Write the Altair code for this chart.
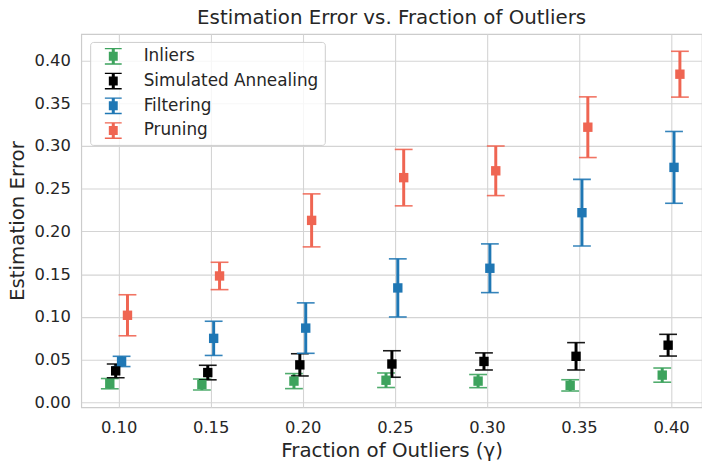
import altair as alt
import pandas as pd

gammas = [0.10, 0.15, 0.20, 0.25, 0.30, 0.35, 0.40]
series_names = ["Inliers", "Simulated Annealing", "Filtering", "Pruning"]
series_colors = ["#3da35d", "#000000", "#1f77b4", "#ef6552"]
series_offsets = [-0.0048, -0.0016, 0.0016, 0.0048]

inliers_mean = [0.022, 0.021, 0.025, 0.026, 0.025, 0.020, 0.032]
inliers_err = [0.006, 0.0065, 0.0088, 0.0085, 0.0077, 0.0066, 0.0083]
sa_mean = [0.037, 0.035, 0.044, 0.045, 0.048, 0.054, 0.067]
sa_err = [0.008, 0.0085, 0.013, 0.0155, 0.010, 0.016, 0.0127]
filt_mean = [0.048, 0.075, 0.087, 0.134, 0.157, 0.222, 0.275]
filt_err = [0.006, 0.020, 0.0295, 0.034, 0.0285, 0.039, 0.042]
prun_mean = [0.102, 0.148, 0.213, 0.263, 0.271, 0.322, 0.384]
prun_err = [0.024, 0.016, 0.031, 0.033, 0.029, 0.0355, 0.0268]

x_ticks = [0.10, 0.15, 0.20, 0.25, 0.30, 0.35, 0.40]
y_ticks = [0.00, 0.05, 0.10, 0.15, 0.20, 0.25, 0.30, 0.35, 0.40]

means = [inliers_mean, sa_mean, filt_mean, prun_mean]
errs = [inliers_err, sa_err, filt_err, prun_err]

rows = []
for si, name in enumerate(series_names):
    for gi, g in enumerate(gammas):
        m = means[si][gi]
        e = errs[si][gi]
        rows.append({"series": name, "order": si, "x": g + series_offsets[si],
                     "mean": m, "lo": m - e, "hi": m + e})
df = pd.DataFrame(rows)

FONT = "DejaVu Sans"
TXT = "#262626"

xscale = alt.Scale(domain=[0.0797, 0.4168], nice=False, zero=False)
yscale = alt.Scale(domain=[-0.0056, 0.431], nice=False, zero=False)
cscale = alt.Scale(domain=series_names, range=series_colors)

xaxis = alt.Axis(values=x_ticks, format=".2f", title="Fraction of Outliers (\u03b3)",
                 labelPadding=13, titlePadding=4)
yaxis = alt.Axis(values=y_ticks, format=".2f", title="Estimation Error",
                 labelPadding=11, titlePadding=7)

glyph = ("M0.04,-1H2.04V-0.84H0.04Z M0.04,0.84H2.04V1H0.04Z "
         "M0.86,-0.84H1.22V0.84H0.86Z M0.51,-0.53H1.57V0.53H0.51Z")

base = alt.Chart(df)

layers = []
for si, name in enumerate(series_names):
    col = series_colors[si]
    sub = base.transform_filter(alt.datum.series == name)
    layers.append(sub.mark_rule(strokeWidth=3, color=col).encode(
        x=alt.X("x:Q", scale=xscale, axis=xaxis),
        y=alt.Y("lo:Q", scale=yscale, axis=yaxis),
        y2="hi:Q",
    ))
    for fld in ["lo", "hi"]:
        layers.append(sub.mark_tick(orient="horizontal", size=18, thickness=1.6,
                                    opacity=0.9, color=col).encode(
            x=alt.X("x:Q", scale=xscale),
            y=alt.Y(f"{fld}:Q", scale=yscale),
        ))

markers = base.mark_square(filled=True, size=90, opacity=1).encode(
    x=alt.X("x:Q", scale=xscale),
    y=alt.Y("mean:Q", scale=yscale),
    color=alt.Color("series:N", scale=cscale, sort=series_names,
                    legend=alt.Legend(
                        title=None, orient="none", legendX=9, legendY=8,
                        symbolType=glyph, symbolSize=289, symbolStrokeWidth=0,
                        labelFont=FONT, labelFontSize=17, labelColor=TXT,
                        labelLimit=400,
                        labelOffset=31, rowPadding=7, padding=6,
                        fillColor="rgba(255,255,255,0.8)", strokeColor="#cccccc",
                        cornerRadius=3, symbolOpacity=1)),
)
layers.append(markers)

chart = alt.layer(*layers).properties(
    width=627, height=377,
    background="white",
    autosize=alt.AutoSizeParams(type="none"),
    padding={"left": 74, "top": 24, "right": 0, "bottom": 52},
    title=alt.Title("Estimation Error vs. Fraction of Outliers", font=FONT,
                    fontSize=20, fontWeight="normal", color=TXT, offset=6),
).configure_view(
    stroke="#cccccc", strokeWidth=1.2
).configure_axis(
    labelFont=FONT, labelFontSize=16.5, labelColor=TXT,
    titleFont=FONT, titleFontSize=20, titleColor=TXT, titleFontWeight="normal",
    grid=True, gridColor="#d4d4d4", gridWidth=1.1,
    ticks=False, tickSize=0, domain=False,
)

chart.save("out.html", embed_options={"renderer": "svg", "actions": False})
